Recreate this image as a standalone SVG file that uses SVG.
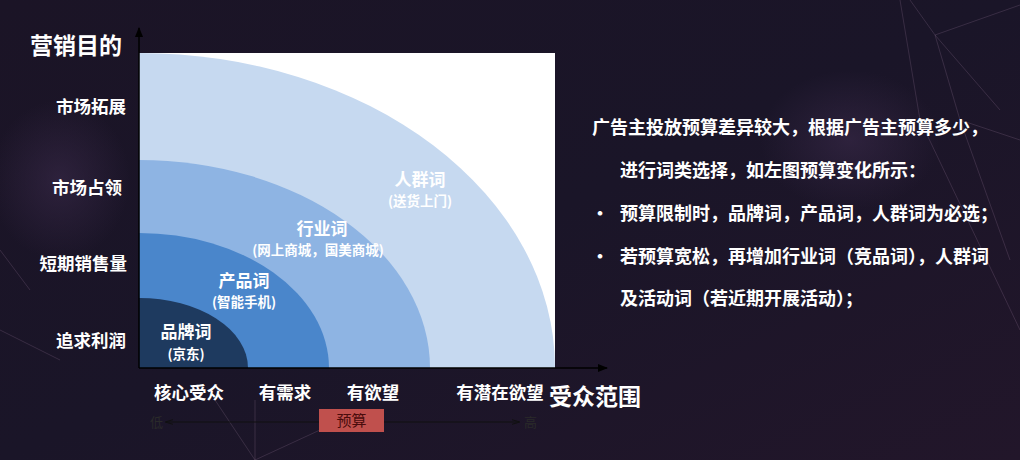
<svg xmlns="http://www.w3.org/2000/svg" width="1020" height="460" viewBox="0 0 1020 460">
  <defs>
    <linearGradient id="bg" x1="0" y1="0" x2="1" y2="1">
      <stop offset="0" stop-color="#1b1426"/>
      <stop offset="0.5" stop-color="#1a1528"/>
      <stop offset="1" stop-color="#22162a"/>
    </linearGradient>
    <radialGradient id="glow1" cx="0.5" cy="0.5" r="0.5">
      <stop offset="0" stop-color="#3a2a4a" stop-opacity="0.6"/>
      <stop offset="1" stop-color="#3a2a4a" stop-opacity="0"/>
    </radialGradient>
    <marker id="arrowBlack" viewBox="0 0 10 10" refX="9" refY="5" markerWidth="7" markerHeight="7" orient="auto-start-reverse">
      <path d="M0,1 L10,5 L0,9 Z" fill="#000"/>
    </marker>
    <marker id="arrowThin" viewBox="0 0 10 10" refX="9" refY="5" markerWidth="8" markerHeight="8" orient="auto-start-reverse">
      <path d="M0,2 L10,5 L0,8" fill="none" stroke="#111" stroke-width="1.2"/>
    </marker>
    <style>
      .cjk { font-family: "Noto Sans CJK SC", "Noto Sans", sans-serif; }
      .b { font-weight: bold; }
      .w { fill: #ffffff; }
      .ylab { font-size: 17.5px; text-anchor: end; }
      .xlab { font-size: 17.5px; text-anchor: middle; }
      .lab { font-size: 17px; text-anchor: middle; }
      .sub { font-size: 13.5px; text-anchor: middle; }
      .body { font-size: 18px; }
      .net { stroke: #8a6a8c; stroke-opacity: 0.28; stroke-width: 1; fill: none; }
    </style>
  </defs>

  <!-- background -->
  <rect x="0" y="0" width="1020" height="460" fill="url(#bg)"/>
  <ellipse cx="850" cy="140" rx="90" ry="70" fill="url(#glow1)"/>
  <ellipse cx="60" cy="180" rx="70" ry="80" fill="url(#glow1)"/>
  <g class="net">
    <line x1="910" y1="0" x2="935" y2="35"/>
    <line x1="935" y1="35" x2="1020" y2="5"/>
    <line x1="935" y1="35" x2="960" y2="120"/>
    <line x1="935" y1="35" x2="1000" y2="110"/>
    <line x1="900" y1="0" x2="920" y2="120"/>
    <line x1="960" y1="120" x2="1020" y2="140"/>
    <line x1="960" y1="120" x2="1010" y2="260"/>
    <line x1="920" y1="120" x2="1020" y2="330"/>
    <line x1="255" y1="400" x2="255" y2="460"/>
    <line x1="215" y1="400" x2="255" y2="460"/>
    <line x1="255" y1="460" x2="320" y2="430"/>
    <line x1="0" y1="330" x2="60" y2="360"/>
    <line x1="30" y1="290" x2="0" y2="250"/>
  </g>

  <!-- chart area -->
  <g id="chart">
    <rect x="139" y="53" width="416" height="315" fill="#ffffff"/>
  </g>

  <g id="node-renqun">
    <path d="M139,368 L139,53 A416,315 0 0 1 555,368 Z" fill="#c6d9f0"/>
  </g>
  <g id="node-hangye">
    <path d="M139,368 L139,160 A291,208 0 0 1 430,368 Z" fill="#8eb4e3"/>
  </g>
  <g id="node-chanpin">
    <path d="M139,368 L139,233 A190,135 0 0 1 329,368 Z" fill="#4a86cb"/>
  </g>
  <g id="node-pinpai">
    <path d="M139,368 L139,298 A109,70 0 0 1 248,368 Z" fill="#1e3a5f"/>
  </g>

  <g id="labels-words" class="cjk b w">
    <text class="lab" x="186" y="338">品牌词</text>
    <text class="sub" x="186" y="359">(京东)</text>
    <text class="lab" x="244" y="287">产品词</text>
    <text class="sub" x="244" y="307">(智能手机)</text>
    <text class="lab" x="322" y="235">行业词</text>
    <text class="sub" x="318" y="255">(网上商城，国美商城)</text>
    <text class="lab" x="420" y="186">人群词</text>
    <text class="sub" x="420" y="206">(送货上门)</text>
  </g>

  <!-- connectors -->
  <g id="connectors">
    <line x1="139" y1="368" x2="139" y2="28" stroke="#000" stroke-width="1.5" marker-end="url(#arrowBlack)"/>
    <line x1="139" y1="368" x2="607" y2="368" stroke="#000" stroke-width="1.5" marker-end="url(#arrowBlack)"/>
    <line x1="166" y1="422" x2="519" y2="422" stroke="#111" stroke-width="1" marker-start="url(#arrowThin)" marker-end="url(#arrowThin)"/>
  </g>

  <!-- axis titles / labels -->
  <g id="y-axis-labels" class="cjk b w">
    <text x="30" y="54" font-size="23">营销目的</text>
    <text class="ylab" x="126" y="113">市场拓展</text>
    <text class="ylab" x="122" y="194">市场占领</text>
    <text class="ylab" x="127" y="270">短期销售量</text>
    <text class="ylab" x="126" y="347">追求利润</text>
  </g>

  <g id="x-axis-labels" class="cjk b w">
    <text class="xlab" x="189" y="399">核心受众</text>
    <text class="xlab" x="285" y="399">有需求</text>
    <text class="xlab" x="373" y="399">有欲望</text>
    <text class="xlab" x="500" y="399">有潜在欲望</text>
    <text x="549" y="405" font-size="23">受众范围</text>
  </g>

  <g id="budget-scale" class="cjk">
    <text x="150" y="427" font-size="13" fill="#2a2a2a">低</text>
    <text x="524" y="427" font-size="13" fill="#2a2a2a">高</text>
  </g>
  <g id="node-budget">
    <rect x="319" y="409" width="65" height="23" fill="#c0504d"/>
    <text class="cjk" x="351.5" y="426" font-size="15" text-anchor="middle" fill="#4a0c0c">预算</text>
  </g>

  <!-- right description -->
  <g id="description" class="cjk b w body">
    <text x="592" y="134">广告主投放预算差异较大，根据广告主预算多少，</text>
    <text x="620" y="177">进行词类选择，如左图预算变化所示：</text>
    <text x="591" y="220">•</text>
    <text x="620" y="220">预算限制时，品牌词，产品词，人群词为必选；</text>
    <text x="591" y="263">•</text>
    <text x="620" y="263">若预算宽松，再增加行业词（竞品词），人群词</text>
    <text x="620" y="305">及活动词（若近期开展活动）；</text>
  </g>
</svg>
